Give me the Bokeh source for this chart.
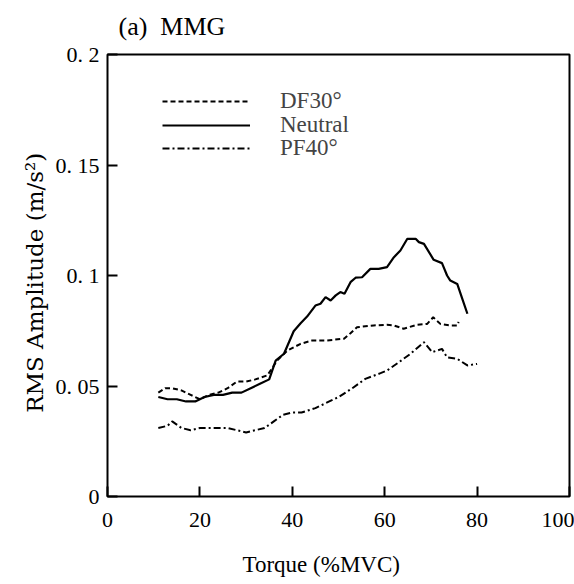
from bokeh.plotting import figure
from bokeh.models import Legend, LegendItem, Range1d, FixedTicker
from bokeh.embed import file_html
from bokeh.resources import INLINE

# Neutral (solid)
neutral_x = [11, 13, 15, 17, 19, 21, 23, 25, 27, 29, 31, 33, 35, 36.4, 38.2, 40.3, 41.8, 43.2, 45.0,
             46.1, 47.2, 48.3, 49.4, 50.4, 51.3, 52.6, 53.7, 55.1, 56.9, 58.7, 60.5, 62.0, 63.4, 64.9,
             66.7, 67.4, 68.5, 70.6, 72.4, 73.5, 74.2, 75.7, 76.8, 77.9]
neutral_y = [0.045, 0.044, 0.044, 0.043, 0.043, 0.045, 0.046, 0.046, 0.047, 0.047, 0.049, 0.051, 0.053,
             0.0615, 0.0646, 0.0748, 0.0784, 0.0814, 0.0864, 0.0872, 0.0902, 0.0887, 0.091, 0.0925,
             0.0917, 0.097, 0.099, 0.0992, 0.103, 0.103, 0.1038, 0.1083, 0.1113, 0.1166, 0.1166,
             0.1151, 0.1143, 0.1071, 0.1056, 0.1000, 0.0977, 0.0962, 0.0894, 0.0827]

# DF30 (dashed)
df30_x = [11, 12.5, 14, 16, 18, 20, 22, 24, 26, 28, 30, 32, 34.6, 36.7, 38.9, 41.8, 44.3, 47.5, 51.2,
          52.6, 54.0, 57.6, 60.5, 62.0, 64.1, 67.0, 69.2, 70.5, 72.1, 74.2, 75.7, 76.0]
df30_y = [0.047, 0.049, 0.049, 0.048, 0.046, 0.044, 0.046, 0.047, 0.049, 0.052, 0.052, 0.053, 0.0548,
          0.0615, 0.066, 0.0691, 0.0706, 0.0706, 0.0714, 0.0739, 0.0766, 0.0774, 0.0777, 0.0774,
          0.0759, 0.0777, 0.0781, 0.0811, 0.078, 0.0774, 0.0774, 0.079]

# PF40 (dash-dot)
pf40_x = [11, 13, 14, 16, 18, 20, 23, 26, 28, 30, 32, 34, 36, 38, 40, 42, 45, 48, 50, 53, 55.8, 59.1,
          60.5, 63.1, 65.6, 68.5, 70.3, 72.4, 73.5, 75.7, 77.9, 80.0]
pf40_y = [0.031, 0.032, 0.034, 0.031, 0.030, 0.031, 0.031, 0.031, 0.030, 0.029, 0.030, 0.031, 0.034,
          0.037, 0.038, 0.038, 0.040, 0.043, 0.045, 0.049, 0.0532, 0.0558, 0.057, 0.0608, 0.0646,
          0.0698, 0.0653, 0.0668, 0.063, 0.0623, 0.0593, 0.060]

series_labels = ["DF30°", "Neutral", "PF40°"]
x_ticks = [0, 20, 40, 60, 80, 100]
y_ticks = [0, 0.05, 0.1, 0.15, 0.2]
y_tick_labels = ["0", "0. 05", "0. 1", "0. 15", "0. 2"]

FONT = "Liberation Serif"
NB = "\u00a0"

p = figure(width=574, height=584, output_backend="svg", toolbar_location=None,
           x_range=Range1d(0, 100), y_range=Range1d(0, 0.2),
           min_border_left=107, min_border_right=5, min_border_top=54, min_border_bottom=88)
p.background_fill_color = "white"
p.border_fill_color = "white"
p.outline_line_color = "black"
p.outline_line_width = 2
p.grid.visible = False

p.title.text = "(a)" + NB + NB + "MMG"
p.title.align = "left"
p.title.vertical_align = "top"
p.title.offset = 11
p.title.standoff = 23
p.title.text_font = FONT
p.title.text_font_size = "26px"
p.title.text_font_style = "normal"
p.title.text_color = "black"

for ax in (p.xaxis[0], p.yaxis[0]):
    ax.axis_line_color = None
    ax.major_tick_in = 10
    ax.major_tick_out = 0
    ax.minor_tick_in = 0
    ax.minor_tick_out = 0
    ax.major_tick_line_width = 2
    ax.major_label_text_font = FONT
    ax.major_label_text_font_size = "22px"
    ax.major_label_text_color = "black"
    ax.axis_label_text_font = FONT
    ax.axis_label_text_font_size = "23px"
    ax.axis_label_text_font_style = "normal"
    ax.axis_label_text_color = "black"

p.xaxis.ticker = FixedTicker(ticks=x_ticks)
p.yaxis.ticker = FixedTicker(ticks=y_ticks)
p.yaxis.major_label_overrides = {t: l for t, l in zip(y_ticks, y_tick_labels)}
p.xaxis.major_label_overrides = {t: str(t) for t in x_ticks}
p.xaxis.major_label_text_align = "right"
p.xaxis.major_label_standoff = 16
p.yaxis.major_label_standoff = 8
p.xaxis.axis_label = "Torque" + NB + "(%MVC)" + NB * 6
p.yaxis.axis_label = "RMS Amplitude (m/s²)" + NB * 2
p.yaxis.axis_label_text_font = "DejaVu Serif"
p.yaxis.axis_label_text_font_size = "23px"
p.xaxis.axis_label_standoff = 22
p.yaxis.axis_label_standoff = 5

r_df = p.line(df30_x, df30_y, line_color="black", line_width=2, line_dash="5 3")
r_ne = p.line(neutral_x, neutral_y, line_color="black", line_width=2.2)
r_pf = p.line(pf40_x, pf40_y, line_color="black", line_width=2, line_dash="7 3 2 3")

for lab, r, yb in zip(series_labels, [r_df, r_ne, r_pf], [380, 356, 333]):
    lg = Legend(items=[LegendItem(label=lab, renderers=[r])],
                location=(55, yb), glyph_width=88, glyph_height=30, label_height=30,
                label_standoff=30, spacing=0, padding=0, margin=0,
                border_line_color=None, background_fill_alpha=0,
                label_text_font=FONT, label_text_font_size="23px")
    p.add_layout(lg)

open("out.html", "w").write(file_html(p, INLINE))
